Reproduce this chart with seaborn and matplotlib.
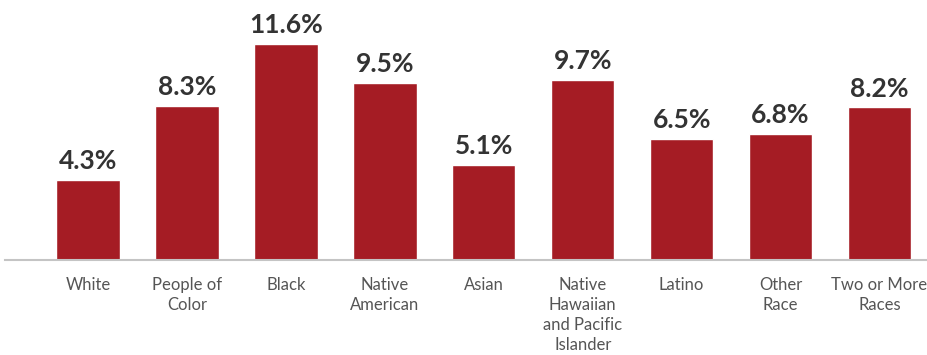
import matplotlib
matplotlib.use("Agg")
import matplotlib.pyplot as plt
import seaborn as sns
import pandas as pd

categories = [
    "White",
    "People of\nColor",
    "Black",
    "Native\nAmerican",
    "Asian",
    "Native\nHawaiian\nand Pacific\nIslander",
    "Latino",
    "Other\nRace",
    "Two or More\nRaces",
]
values = [4.3, 8.3, 11.6, 9.5, 5.1, 9.7, 6.5, 6.8, 8.2]

df = pd.DataFrame({"group": categories, "rate": values})

sns.set_theme(style="white")
plt.rcParams["font.family"] = ["Lato", "DejaVu Sans"]

W, H, DPI = 927, 355, 100
fig = plt.figure(figsize=(W / DPI, H / DPI), dpi=DPI)
ax = fig.add_axes([5 / W, 95 / H, 922 / W, 260 / H])

bar_color = "#a51c24"
sns.barplot(data=df, x="group", y="rate", color=bar_color, width=0.64,
            saturation=1, ax=ax)

ax.set_xlim(-0.84, 8.48)
ax.set_ylim(0, 13.98)

for container in ax.containers:
    ax.bar_label(container, fmt="%.1f%%", padding=5, fontsize=19,
                 fontweight="bold", color="#333333")

ax.set_xlabel("")
ax.set_ylabel("")
ax.set_yticks([])
ax.tick_params(axis="x", length=0, pad=12, labelsize=12, labelcolor="#555555")
for lbl in ax.get_xticklabels():
    lbl.set_linespacing(1.32)

for side in ("top", "right", "left"):
    ax.spines[side].set_visible(False)
ax.spines["bottom"].set_color("#c4c4c4")
ax.spines["bottom"].set_linewidth(1.5)

fig.savefig("out.png", dpi=DPI)
